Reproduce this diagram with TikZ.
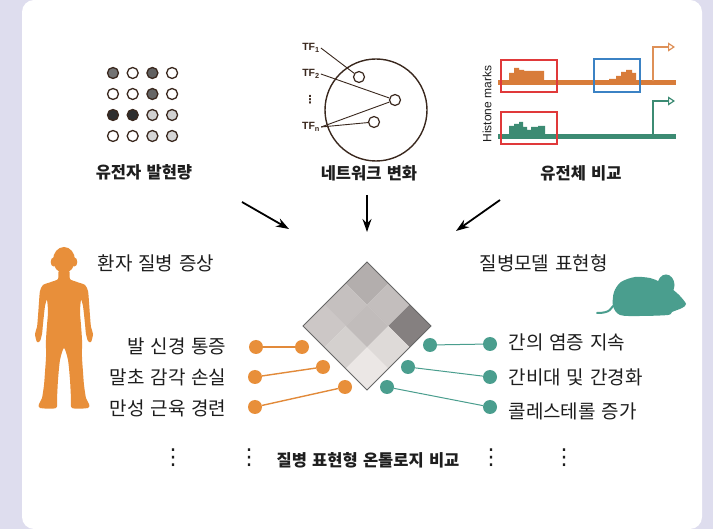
\documentclass[tikz,border=0pt]{standalone}
\usepackage{fontspec}
\setmainfont{Liberation Sans}
\newfontfamily\kr{Noto Sans CJK KR}[WordSpace=1.6]
\newfontfamily\krl{Noto Sans CJK KR}[WordSpace=1.4]
\newfontfamily\sym{DejaVu Sans}
\usetikzlibrary{arrows.meta}
\definecolor{lav}{RGB}{222,221,238}
\definecolor{org}{RGB}{232,143,58}
\definecolor{orgline}{RGB}{226,138,58}
\definecolor{tea}{RGB}{74,158,142}
\definecolor{hor}{RGB}{216,124,58}
\definecolor{hgr}{RGB}{60,139,115}
\definecolor{rbox}{RGB}{224,57,58}
\definecolor{bbox}{RGB}{59,130,196}
\definecolor{ring}{RGB}{58,40,30}
\definecolor{txt}{RGB}{30,30,30}
\tikzset{
  head/.style={font=\kr\bfseries\fontsize{16.5}{18}\selectfont, text=txt},
  lab/.style={font=\krl\fontsize{19}{22}\selectfont, text=txt},
  tf/.style={font=\bfseries\fontsize{10.5}{12}\selectfont, text=ring, inner sep=1pt},
  gdot/.style={circle, draw=ring, line width=1.3pt, minimum size=11pt, inner sep=0pt},
  odot/.style={circle, fill=org, minimum size=14pt, inner sep=0pt},
  tdot/.style={circle, fill=tea, minimum size=14pt, inner sep=0pt},
  netnode/.style={circle, draw=ring, line width=1.2pt, minimum size=11pt, inner sep=0pt},
  olink/.style={orgline, line width=1.4pt},
  tlink/.style={tea, line width=1pt},
  bigarrow/.style={black, line width=1.8pt, -{Stealth[length=13pt,width=9pt]}},
  ellip/.style={font=\sym\fontsize{22}{24}\selectfont, text=txt, inner sep=0pt}
}
\begin{document}
\begin{tikzpicture}[x=1pt,y=-1pt]
\useasboundingbox (0,0) rectangle (713,529);
\fill[lav] (0,0) rectangle (713,529);
\fill[white, rounded corners=12pt] (22,0) rectangle (702,529);

% ---- gene expression dot grid ----
\foreach \c [count=\k from 0] in {black!55,white,black!62,white,
                                  white,white,black!60,white,
                                  black!82,black!82,black!18,black!18,
                                  white,white,black!16,black!16}{
  \pgfmathtruncatemacro{\col}{mod(\k,4)}
  \pgfmathtruncatemacro{\row}{div(\k,4)}
  \node[gdot, fill=\c] (g\k) at ({113+19.7*\col},{73+21*\row}) {};
}
\node[head] (h1) at (144,172) {유전자 발현량};

% ---- network ----
\draw[ring, line width=1.4pt] (376,110) circle (51);
\node[netnode] (n1) at (359,77) {};
\node[netnode] (n2) at (395,100) {};
\node[netnode] (n3) at (374,122) {};
\node[tf] (tf1) at (311,48) {TF\textsubscript{1}};
\node[tf] (tf2) at (311,74) {TF\textsubscript{2}};
\node[tf, font=\sym\bfseries\fontsize{11}{11}\selectfont] (tfd) at (310,100) {⋮};
\node[tf] (tfn) at (311,127) {TF\textsubscript{n}};
\draw[ring, line width=0.9pt] (tf1.east) -- (n1);
\draw[ring, line width=0.9pt] (tf2.east) -- (n2);
\draw[ring, line width=0.9pt] (tfn.east) -- (n2);
\draw[ring, line width=0.9pt] (tfn.east) -- (n3);
\node[head] (h2) at (369,173) {네트워크 변화};

% ---- histone tracks ----
\node[rotate=90, font=\fontsize{12}{13}\selectfont, text=txt] (hm) at (487,104) {Histone marks};
\fill[hor] (509,81) -- (509,73) -- (514,73) -- (514,68) -- (519,68) -- (519,70) -- (524,70) -- (524,71) -- (544,71) -- (544,81) -- cycle;
\fill[hor] (609,81) -- (609,79) -- (616,79) -- (616,76) -- (621,76) -- (621,72) -- (626,72) -- (626,70) -- (632,70) -- (632,73) -- (636,73) -- (636,81) -- cycle;
\fill[hgr] (509,135) -- (509,126) -- (514,126) -- (514,124) -- (519,124) -- (519,122) -- (523,122) -- (523,127) -- (527,127) -- (527,130) -- (531,130) -- (531,127) -- (538,127) -- (538,126) -- (545,126) -- (545,135) -- cycle;
\coordinate (ot0) at (498,83);
\coordinate (ot1) at (676,83);
\coordinate (gt0) at (498,137);
\coordinate (gt1) at (676,137);
\draw[hor, line width=5pt] (ot0) -- (ot1);
\draw[hgr, line width=5pt] (gt0) -- (gt1);
\coordinate (op) at (653,81);
\coordinate (oa) at (675,47);
\coordinate (gp) at (653,135);
\coordinate (ga) at (675,101);
\draw[hor!85, line width=1.2pt, -{Triangle[open,length=7pt,width=9pt]}] (op) |- (oa);
\draw[hgr, line width=1.2pt, -{Triangle[open,length=7pt,width=9pt]}] (gp) |- (ga);
\draw[rbox, line width=1.3pt] (501,60) rectangle (557,92);
\draw[bbox, line width=1.3pt] (594,59) rectangle (640,92);
\draw[rbox, line width=1.3pt] (501,112) rectangle (557,144);
\node[head] (h3) at (581,173) {유전체 비교};

% ---- converging arrows ----
\coordinate (a1s) at (242,202);
\coordinate (a1e) at (289,229);
\coordinate (a2s) at (367,195);
\coordinate (a2e) at (367,232);
\coordinate (a3s) at (500,200);
\coordinate (a3e) at (456,231);
\draw[bigarrow] (a1s) -- (a1e);
\draw[bigarrow] (a2s) -- (a2e);
\draw[bigarrow] (a3s) -- (a3e);

% ---- human silhouette ----
\begin{scope}[shift={(64,0)}]
\fill[org] plot[smooth cycle, tension=0.45] coordinates {
 (5,271) (6,279) (13,282) (21,285) (24,291) (25,302) (26,316) (27,327) (29,334) (27,342) (24,341) (22,334)
 (21,324) (19,306) (17,300) (16,312) (17,325) (18,340) (18,357) (19,372) (20,385) (22,398) (25,404) (24,408)
 (8,408) (7,398) (6,380) (4,360) (0,348)
 (-4,360) (-6,380) (-7,398) (-8,408) (-24,408) (-25,404) (-22,398) (-20,385) (-19,372) (-18,357) (-18,340)
 (-17,325) (-16,312) (-17,300) (-19,306) (-21,324) (-22,334) (-24,341) (-27,342) (-29,334) (-27,327)
 (-26,316) (-25,302) (-24,291) (-21,285) (-13,282) (-6,279) (-5,271)};
\fill[org] (0,260) ellipse (11 and 13);
\fill[org] (-10.5,262) ellipse (2.8 and 4.5);
\fill[org] (10.5,262) ellipse (2.8 and 4.5);
\end{scope}
\node[lab, anchor=west] (pt) at (94,263) {환자 질병 증상};

% ---- mouse silhouette ----
\fill[tea] plot[smooth cycle, tension=0.5] coordinates {
 (613,306) (614,292) (621,282) (635,277) (650,278) (660,282) (672,289) (680,296) (686,304) (682,308)
 (672,312) (668,315) (640,316) (620,315)};
\fill[tea] (666,285) ellipse (8.5 and 10.5);
\draw[tea, line width=2pt, line cap=round] (615,304) .. controls (610,308) and (612,313) .. (597,313);
\node[lab, anchor=west] (mt) at (476,263) {질병모델 표현형};

% ---- phenotype ontology diamond ----
\foreach \i/\j/\c in {0/0/B3AEAD,1/0/C3BEBD,2/0/858080,0/1/C5C0BF,1/1/C1BCBB,2/1/DEDAD8,0/2/CCC7C6,1/2/D4D0CE,2/2/EBE7E5}{
  \definecolor{cell}{HTML}{\c}
  \fill[cell] ({367+21.333*(\i-\j)},{262+21.333*(\i+\j)}) -- ({367+21.333*(\i+1-\j)},{262+21.333*(\i+1+\j)})
     -- ({367+21.333*(\i-\j)},{262+21.333*(\i+\j+2)}) -- ({367+21.333*(\i-\j-1)},{262+21.333*(\i+\j+1)}) -- cycle;
}
\draw[black!60, line width=0.8pt] (367,262) -- (431,326) -- (367,390) -- (303,326) -- cycle;

% ---- patient phenotypes ----
\node[odot] (ol1) at (256,347) {};
\node[odot] (ol2) at (255,377) {};
\node[odot] (ol3) at (255,407) {};
\node[odot] (or1) at (302,347) {};
\node[odot] (or2) at (323,367) {};
\node[odot] (or3) at (345,387) {};
\draw[olink] (ol1) -- (or1);
\draw[olink] (ol2) -- (or2);
\draw[olink] (ol3) -- (or3);
\node[lab, anchor=east] (p1) at (230,346) {발 신경 통증};
\node[lab, anchor=east] (p2) at (230,377) {말초 감각 손실};
\node[lab, anchor=east] (p3) at (230,408) {만성 근육 경련};

% ---- model phenotypes ----
\node[tdot] (tl1) at (430,345) {};
\node[tdot] (tl2) at (408,367) {};
\node[tdot] (tl3) at (387,387) {};
\node[tdot] (tr1) at (490,344) {};
\node[tdot] (tr2) at (490,377) {};
\node[tdot] (tr3) at (490,407) {};
\draw[tlink] (tl1) -- (tr1);
\draw[tlink] (tl2) -- (tr2);
\draw[tlink] (tl3) -- (tr3);
\node[lab, anchor=west] (m1) at (505,342) {간의 염증 지속};
\node[lab, anchor=west] (m2) at (505,377) {간비대 및 간경화};
\node[lab, anchor=west] (m3) at (505,411) {콜레스테롤 증가};

% ---- bottom caption and ellipsis marks ----
\node[head] (cap) at (368,460) {질병 표현형 온톨로지 비교};
\node[ellip] (e1) at (173,458) {⋮};
\node[ellip] (e2) at (249,458) {⋮};
\node[ellip] (e3) at (491,458) {⋮};
\node[ellip] (e4) at (564,458) {⋮};
\end{tikzpicture}
\end{document}
